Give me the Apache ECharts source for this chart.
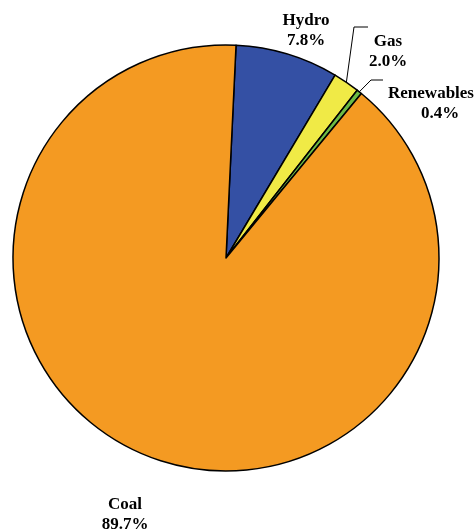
<!DOCTYPE html>
<html>
<head>
<meta charset="utf-8">
<script src="https://cdn.jsdelivr.net/npm/echarts@6/dist/echarts.min.js"></script>
<style>
  html, body { margin: 0; padding: 0; background: #ffffff; }
  #chart { width: 474px; height: 531px; }
</style>
</head>
<body>
<div id="chart"></div>
<script>
// Electricity generation mix by source (%)
const categories = ['Hydro', 'Gas', 'Renewables', 'Coal'];
const shares = [7.8, 2.0, 0.4, 89.7];
const colors = ['#3450A4', '#F0EA46', '#6CBB45', '#F49A22'];

const FONT = '"Liberation Serif", "Times New Roman", serif';

const chart = echarts.init(document.getElementById('chart'), null, { renderer: 'canvas' });

const data = categories.map((name, i) => {
  const item = { name: name, value: shares[i], itemStyle: { color: colors[i] } };
  if (name === 'Hydro' || name === 'Coal') {
    item.labelLine = { show: false };
  }
  return item;
});

// Where each label sits, with its leader line routed over the slice
const labelSpots = {
  Hydro: { x: 306, y: 31 },
  Gas: { x: 388, y: 52, bend: [[354, 27], [368, 27]] },
  Renewables: { x: 431, y: 104, bend: [[371, 80], [383, 80]] },
  Coal: { x: 125, y: 515 }
};

chart.setOption({
  animation: false,
  backgroundColor: '#ffffff',
  series: [{
    type: 'pie',
    center: [226, 258],
    radius: 213,
    startAngle: 87.3,
    clockwise: true,
    avoidLabelOverlap: false,
    itemStyle: { borderColor: '#000000', borderWidth: 1.5 },
    label: {
      show: true,
      position: 'outside',
      formatter: function (p) {
        const pct = p.value.toFixed(1) + '%';
        if (p.name === 'Renewables') {
          return '{n|' + p.name + '}\n{v|' + pct + '}';
        }
        return p.name + '\n' + pct;
      },
      fontFamily: FONT,
      fontWeight: 'bold',
      fontSize: 17,
      lineHeight: 20,
      color: '#000000',
      align: 'center',
      rich: {
        n: { fontFamily: FONT, fontWeight: 'bold', fontSize: 17, lineHeight: 20, color: '#000' },
        v: { fontFamily: FONT, fontWeight: 'bold', fontSize: 17, lineHeight: 20, color: '#000', padding: [0, 0, 0, 18] }
      }
    },
    labelLine: {
      show: true,
      lineStyle: { color: '#000000', width: 1 }
    },
    labelLayout: function (params) {
      const name = categories[params.dataIndex];
      const spot = labelSpots[name];
      const out = { x: spot.x, y: spot.y, align: 'center', verticalAlign: 'middle' };
      if (spot.bend && params.labelLinePoints) {
        out.labelLinePoints = [params.labelLinePoints[0]].concat(spot.bend);
      }
      return out;
    },
    data: data
  }]
});
</script>
</body>
</html>
